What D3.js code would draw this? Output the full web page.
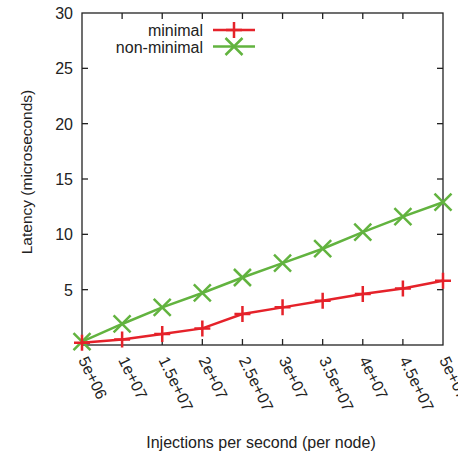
<!DOCTYPE html>
<html>
<head>
<meta charset="utf-8">
<script src="https://cdn.jsdelivr.net/npm/d3@7"></script>
<style>
  body { margin: 0; background: #fff; }
  text { font-family: "Liberation Sans", Arial, sans-serif; fill: #222; }
</style>
</head>
<body>
<svg id="chart"></svg>
<script>
// data
const injections = [5e6, 1e7, 1.5e7, 2e7, 2.5e7, 3e7, 3.5e7, 4e7, 4.5e7, 5e7];
const xTickLabels = ["5e+06", "1e+07", "1.5e+07", "2e+07", "2.5e+07", "3e+07", "3.5e+07", "4e+07", "4.5e+07", "5e+07"];
const minimal = [0.2, 0.5, 1.0, 1.5, 2.8, 3.4, 4.0, 4.6, 5.1, 5.8];
const nonMinimal = [0.3, 1.9, 3.4, 4.7, 6.1, 7.4, 8.7, 10.2, 11.6, 12.9];
const yTicks = [5, 10, 15, 20, 25, 30];
const seriesNames = ["minimal", "non-minimal"];

var w = 458, h = 456;
var pLeft = 82, pRight = 443, pTop = 13, pBottom = 345;
var red = "#e5222a", green = "#62b33f";
var fs = 16;

var svg = d3.select("#chart").attr("width", w).attr("height", h);

var x = d3.scaleLinear().domain([5e6, 5e7]).range([pLeft, pRight]);
var y = d3.scaleLinear().domain([0, 30]).range([pBottom, pTop]);

// ticks, all pointing inward, mirrored on both sides
var tk = 6;
var axes = svg.append("g").attr("stroke", "#222").attr("stroke-width", 1.3);
injections.forEach((v, i) => {
    if (i == 0 || i == injections.length - 1) return;
    axes.append("line").attr("x1", x(v)).attr("x2", x(v)).attr("y1", pBottom).attr("y2", pBottom - tk);
    axes.append("line").attr("x1", x(v)).attr("x2", x(v)).attr("y1", pTop).attr("y2", pTop + tk);
});
yTicks.forEach((v) => {
    if (v == 30) return;
    axes.append("line").attr("x1", pLeft).attr("x2", pLeft + tk).attr("y1", y(v)).attr("y2", y(v));
    axes.append("line").attr("x1", pRight).attr("x2", pRight - tk).attr("y1", y(v)).attr("y2", y(v));
});
axes.append("rect")
    .attr("x", pLeft).attr("y", pTop)
    .attr("width", pRight - pLeft).attr("height", pBottom - pTop)
    .attr("fill", "none");

// y tick labels
svg.selectAll(".ylab")
    .data(yTicks)
    .enter()
    .append("text")
    .attr("class", "ylab")
    .attr("x", pLeft - 9)
    .attr("y", (d) => y(d) + 6)
    .attr("text-anchor", "end")
    .attr("font-size", fs)
    .text((d) => d);

// x tick labels, rotated
svg.selectAll(".xlab")
    .data(injections)
    .enter()
    .append("text")
    .attr("class", "xlab")
    .attr("text-anchor", "start")
    .attr("font-size", fs)
    .attr("transform", (d) => "translate(" + (x(d) - 4) + "," + (pBottom + 15) + ") rotate(64)")
    .text((d, i) => xTickLabels[i]);

// axis titles
svg.append("text")
    .attr("x", 261).attr("y", 448)
    .attr("text-anchor", "middle")
    .attr("font-size", fs)
    .text("Injections per second (per node)");
svg.append("text")
    .attr("transform", "translate(32,172) rotate(-90)")
    .attr("text-anchor", "middle")
    .attr("font-size", 15.5)
    .text("Latency (microseconds)");

var line = d3.line().x((d, i) => x(injections[i])).y((d) => y(d));

function plus(g, cx, cy, c) {
    g.append("path").attr("d", "M" + (cx - 8) + "," + cy + "H" + (cx + 8) + "M" + cx + "," + (cy - 8) + "V" + (cy + 8))
        .attr("stroke", c).attr("stroke-width", 2.5).attr("fill", "none");
}
function cross(g, cx, cy, c) {
    var s = 8.5;
    g.append("path").attr("d", "M" + (cx - s) + "," + (cy - s) + "L" + (cx + s) + "," + (cy + s) + "M" + (cx - s) + "," + (cy + s) + "L" + (cx + s) + "," + (cy - s))
        .attr("stroke", c).attr("stroke-width", 2.5).attr("fill", "none");
}

var series = [
    { name: seriesNames[0], values: minimal, color: red, marker: plus },
    { name: seriesNames[1], values: nonMinimal, color: green, marker: cross }
];

// draw non-minimal first so red sits on top at the origin
[series[1], series[0]].forEach((s) => {
    var g = svg.append("g");
    g.append("path")
        .datum(s.values)
        .attr("d", line)
        .attr("fill", "none")
        .attr("stroke", s.color)
        .attr("stroke-width", 2.5);
    s.values.forEach((v, i) => s.marker(g, x(injections[i]), y(v), s.color));
});

// legend
series.forEach((s, i) => {
    var ly = 30 + i * 16.5;
    svg.append("text")
        .attr("x", 203).attr("y", ly + 6)
        .attr("text-anchor", "end")
        .attr("font-size", fs)
        .text(s.name);
    var g = svg.append("g");
    g.append("line").attr("x1", 213).attr("x2", 255).attr("y1", ly).attr("y2", ly)
        .attr("stroke", s.color).attr("stroke-width", 2.5);
    s.marker(g, 234, ly, s.color);
});
</script>
</body>
</html>
